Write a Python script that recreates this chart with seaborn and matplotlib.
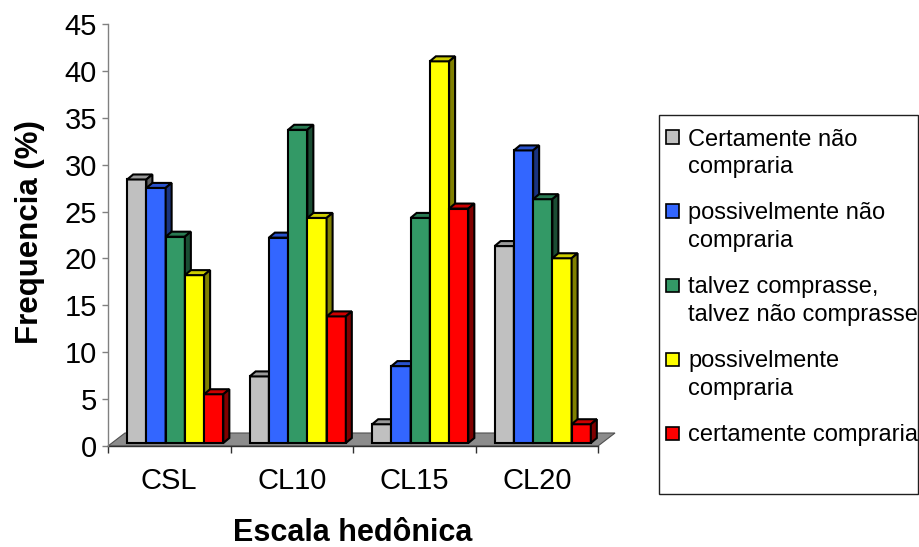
import matplotlib
matplotlib.use("Agg")
import numpy as np
import pandas as pd
import seaborn as sns
import matplotlib.pyplot as plt
from matplotlib.patches import Polygon, Rectangle
from matplotlib.transforms import ScaledTranslation
from matplotlib.colors import to_rgb

# --- data -------------------------------------------------------------
escalas = ["CSL", "CL10", "CL15", "CL20"]
respostas = [
    "Certamente não compraria",
    "possivelmente não compraria",
    "talvez comprasse, talvez não comprasse",
    "possivelmente compraria",
    "certamente compraria",
]
legenda_linhas = [
    ["Certamente não", "compraria"],
    ["possivelmente não", "compraria"],
    ["talvez comprasse,", "talvez não comprasse"],
    ["possivelmente", "compraria"],
    ["certamente compraria"],
]
certamente_nao = [28.1, 7.1, 2.0, 21.0]
possivelmente_nao = [27.2, 21.9, 8.2, 31.2]
talvez = [22.0, 33.4, 24.0, 26.0]
possivelmente = [17.9, 24.0, 40.7, 19.7]
certamente = [5.2, 13.5, 25.0, 2.0]
y_ticks = [0, 5, 10, 15, 20, 25, 30, 35, 40, 45]

cores = ["#C0C0C0", "#3366FF", "#339966", "#FFFF00", "#FF0000"]

series = [certamente_nao, possivelmente_nao, talvez, possivelmente, certamente]
df = pd.DataFrame(
    [(e, r, v) for r, vals in zip(respostas, series) for e, v in zip(escalas, vals)],
    columns=["escala", "resposta", "freq"],
)

# --- style ------------------------------------------------------------
sns.set_theme(style="white")
plt.rcParams["font.family"] = ["Liberation Sans", "DejaVu Sans"]
plt.rcParams["text.color"] = "black"
plt.rcParams["axes.labelcolor"] = "black"
plt.rcParams["xtick.color"] = "black"
plt.rcParams["ytick.color"] = "black"

W, H = 920, 547
fig = plt.figure(figsize=(W / 100, H / 100), dpi=100)
ax = fig.add_axes([108 / W, 101 / H, 490 / W, 422 / H])

sns.barplot(
    data=df, x="escala", y="freq", hue="resposta",
    order=escalas, hue_order=respostas, palette=cores, saturation=1,
    width=0.785, edgecolor="black", linewidth=1.5, legend=False, ax=ax,
)
ax.set_xlim(-0.5, 3.5)
ax.set_ylim(0, 45)

# pixel -> data conversions for the oblique 3D look
sx = 490 / 4.0
sy = 422 / 45.0
shift = ax.transData + ScaledTranslation(6 / 100, 3 / 100, fig.dpi_scale_trans)
dx, dy = 6 / sx, 5 / sy          # column depth
fdx, fdy = 17 / sx, 13 / sy      # floor depth


def shade(c, f):
    r, g, b = to_rgb(c)
    return (r * f, g * f, b * f)


# floor
floor = Polygon(
    [(-0.5, 0), (3.5, 0), (3.5 + fdx, fdy), (-0.5 + fdx, fdy)],
    closed=True, facecolor="#8C8C8C", edgecolor="#505050", lw=0.8,
    zorder=1, clip_on=False,
)
ax.add_patch(floor)

# columns: front face from seaborn, plus top and side faces
for i, cont in enumerate(ax.containers):
    for j, p in enumerate(cont.patches):
        z = 3 + 0.01 * (j * len(respostas) + i)
        p.set_transform(shift)
        p.set_zorder(z)
        p.set_clip_on(False)
        x0 = p.get_x()
        x1 = x0 + p.get_width()
        h = p.get_height()
        top = Polygon(
            [(x0, h), (x1, h), (x1 + dx, h + dy), (x0 + dx, h + dy)],
            closed=True, facecolor=shade(cores[i], 0.8), edgecolor="black",
            lw=1.5, zorder=z, transform=shift, clip_on=False,
        )
        side = Polygon(
            [(x1, 0), (x1 + dx, dy), (x1 + dx, h + dy), (x1, h)],
            closed=True, facecolor=shade(cores[i], 0.5), edgecolor="black",
            lw=1.5, zorder=z, transform=shift, clip_on=False,
        )
        ax.add_patch(top)
        ax.add_patch(side)

# axes
for s in ["top", "right"]:
    ax.spines[s].set_visible(False)
ax.spines["left"].set_color("#808080")
ax.spines["left"].set_linewidth(1.0)
ax.spines["bottom"].set_color("#303030")
ax.spines["bottom"].set_linewidth(1.0)
ax.spines["bottom"].set_zorder(2)

ax.set_yticks(y_ticks)
ax.set_yticklabels([str(t) for t in y_ticks])
ax.tick_params(axis="y", which="major", direction="out", length=4, width=1,
               color="#808080", pad=4, labelsize=21, labelcolor="black", left=True)

ax.set_xticks(np.arange(-0.5, 4.0, 1.0))
ax.set_xticklabels([])
ax.set_xticks(np.arange(len(escalas)), minor=True)
ax.set_xticklabels(escalas, minor=True)
ax.tick_params(axis="x", which="major", direction="out", length=5, width=1,
               color="#303030", bottom=True)
ax.tick_params(axis="x", which="minor", length=0, pad=15, labelsize=21,
               labelcolor="black")

ax.set_ylabel("Frequencia (%)", fontsize=22.5, fontweight="bold", va="baseline")
ax.yaxis.set_label_coords(-0.143, 0.507)
ax.set_xlabel("Escala hedônica", fontsize=22, fontweight="bold", va="baseline")
ax.xaxis.set_label_coords(0.5, -0.224)

# legend box
fig.add_artist(Rectangle((659 / W, 1 - 494 / H), (918 - 659) / W, (494 - 115) / H,
                         transform=fig.transFigure, fill=False,
                         edgecolor="#202020", lw=1.0))
y0, passo, linha = 137.0, 74.0, 27.5
for i, linhas in enumerate(legenda_linhas):
    yc = y0 + i * passo
    fig.add_artist(Rectangle((666 / W, 1 - (yc + 6.5) / H), 13 / W, 13 / H,
                             transform=fig.transFigure, facecolor=cores[i],
                             edgecolor="black", lw=1.2))
    for k, t in enumerate(linhas):
        yb = yc + k * linha + 8.5
        fig.text(688 / W, 1 - yb / H, t, fontsize=17, ha="left", va="baseline")

fig.savefig("out.png", dpi=100, facecolor="white")
